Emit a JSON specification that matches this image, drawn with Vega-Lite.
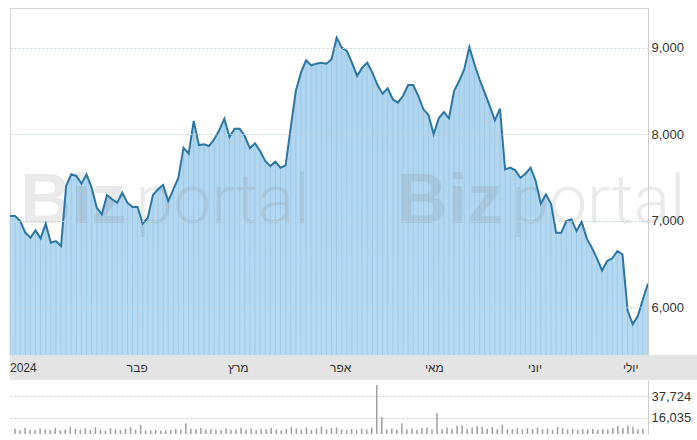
{
  "$schema": "https://vega.github.io/schema/vega-lite/v6.json",
  "padding": {"left": 5, "top": 7, "right": 0, "bottom": 7},
  "autosize": {"type": "pad"},
  "background": "white",
  "spacing": 0,
  "bounds": "flush",
  "config": {"view": {"stroke": null}, "font": "Liberation Sans"},
  "resolve": {"scale": {"x": "independent", "y": "independent"}},
  "datasets": {
    "prices": [
      {"i":0,"p":7053,"v":5200},{"i":1,"p":7053,"v":3800},{"i":2,"p":6995,"v":6100},{"i":3,"p":6860,"v":4200},{"i":4,"p":6802,"v":3900},
      {"i":5,"p":6887,"v":5600},{"i":6,"p":6794,"v":4800},{"i":7,"p":6964,"v":4100},{"i":8,"p":6744,"v":6300},{"i":9,"p":6763,"v":3700},
      {"i":10,"p":6706,"v":4400},{"i":11,"p":7400,"v":6900},{"i":12,"p":7535,"v":5100},{"i":13,"p":7516,"v":4300},{"i":14,"p":7427,"v":5800},
      {"i":15,"p":7535,"v":4000},{"i":16,"p":7380,"v":6600},{"i":17,"p":7149,"v":4500},{"i":18,"p":7072,"v":3600},{"i":19,"p":7296,"v":5900},
      {"i":20,"p":7246,"v":4700},{"i":21,"p":7207,"v":4100},{"i":22,"p":7322,"v":5300},{"i":23,"p":7207,"v":6700},{"i":24,"p":7157,"v":4200},
      {"i":25,"p":7157,"v":9200},{"i":26,"p":6964,"v":3500},{"i":27,"p":7033,"v":3800},{"i":28,"p":7296,"v":4100},{"i":29,"p":7362,"v":3600},
      {"i":30,"p":7411,"v":3900},{"i":31,"p":7226,"v":4300},{"i":32,"p":7362,"v":5000},{"i":33,"p":7496,"v":4600},{"i":34,"p":7843,"v":10500},
      {"i":35,"p":7774,"v":5200},{"i":36,"p":8152,"v":4800},{"i":37,"p":7874,"v":6100},{"i":38,"p":7882,"v":4400},{"i":39,"p":7863,"v":5000},
      {"i":40,"p":7940,"v":4600},{"i":41,"p":8044,"v":3900},{"i":42,"p":8179,"v":5700},{"i":43,"p":7967,"v":4200},{"i":44,"p":8063,"v":4500},
      {"i":45,"p":8063,"v":6200},{"i":46,"p":7978,"v":4300},{"i":47,"p":7836,"v":5500},{"i":48,"p":7894,"v":3900},{"i":49,"p":7805,"v":5100},
      {"i":50,"p":7689,"v":4700},{"i":51,"p":7631,"v":6000},{"i":52,"p":7681,"v":4400},{"i":53,"p":7612,"v":3800},{"i":54,"p":7639,"v":5200},
      {"i":55,"p":8074,"v":6800},{"i":56,"p":8499,"v":5600},{"i":57,"p":8711,"v":4500},{"i":58,"p":8854,"v":6400},{"i":59,"p":8796,"v":4100},
      {"i":60,"p":8815,"v":5300},{"i":61,"p":8826,"v":7600},{"i":62,"p":8815,"v":4800},{"i":63,"p":8866,"v":5900},{"i":64,"p":9116,"v":6500},
      {"i":65,"p":9000,"v":4600},{"i":66,"p":8962,"v":4200},{"i":67,"p":8826,"v":5000},{"i":68,"p":8673,"v":3900},{"i":69,"p":8769,"v":5400},
      {"i":70,"p":8826,"v":4700},{"i":71,"p":8711,"v":6600},{"i":72,"p":8568,"v":49000},{"i":73,"p":8468,"v":17000},{"i":74,"p":8530,"v":4800},
      {"i":75,"p":8403,"v":5600},{"i":76,"p":8364,"v":4400},{"i":77,"p":8441,"v":10500},{"i":78,"p":8568,"v":4600},{"i":79,"p":8568,"v":5200},
      {"i":80,"p":8441,"v":4300},{"i":81,"p":8287,"v":5900},{"i":82,"p":8221,"v":6200},{"i":83,"p":7998,"v":4500},{"i":84,"p":8183,"v":21000},
      {"i":85,"p":8256,"v":4800},{"i":86,"p":8183,"v":6500},{"i":87,"p":8499,"v":4900},{"i":88,"p":8615,"v":8200},{"i":89,"p":8750,"v":8700},
      {"i":90,"p":9008,"v":5300},{"i":91,"p":8808,"v":6400},{"i":92,"p":8634,"v":7900},{"i":93,"p":8479,"v":7200},{"i":94,"p":8325,"v":5200},
      {"i":95,"p":8160,"v":7000},{"i":96,"p":8294,"v":4800},{"i":97,"p":7593,"v":9300},{"i":98,"p":7612,"v":4600},{"i":99,"p":7581,"v":5000},
      {"i":100,"p":7496,"v":6100},{"i":101,"p":7542,"v":4500},{"i":102,"p":7612,"v":5600},{"i":103,"p":7458,"v":4900},{"i":104,"p":7195,"v":6200},
      {"i":105,"p":7304,"v":4700},{"i":106,"p":7195,"v":5500},{"i":107,"p":6860,"v":4400},{"i":108,"p":6860,"v":7000},{"i":109,"p":6995,"v":5800},
      {"i":110,"p":7015,"v":4600},{"i":111,"p":6879,"v":5100},{"i":112,"p":6987,"v":4300},{"i":113,"p":6794,"v":4800},{"i":114,"p":6686,"v":4500},
      {"i":115,"p":6563,"v":5300},{"i":116,"p":6424,"v":4200},{"i":117,"p":6532,"v":4900},{"i":118,"p":6563,"v":4600},{"i":119,"p":6648,"v":6100},
      {"i":120,"p":6610,"v":8000},{"i":121,"p":5962,"v":6000},{"i":122,"p":5800,"v":8600},{"i":123,"p":5896,"v":7200},{"i":124,"p":6089,"v":4700},
      {"i":125,"p":6270,"v":5200}
    ],
    "months": [
      {"i":0,"m":"2024"},{"i":22.9,"m":"פבר"},{"i":42.7,"m":"מרץ"},{"i":62.7,"m":"אפר"},
      {"i":81.3,"m":"מאי"},{"i":101.5,"m":"יוני"},{"i":120.1,"m":"יולי"}
    ]
  },
  "vconcat": [
    {
      "width": 638,
      "height": 347,
      "view": {"stroke": "#d6d6d6", "strokeWidth": 1},
      "data": {"name": "prices"},
      "layer": [
        {
          "mark": {"type": "area", "clip": true,
            "color": {"x1": 0, "y1": 0, "x2": 0, "y2": 1, "gradient": "linear",
              "stops": [{"offset": 0, "color": "#afd4ee"}, {"offset": 1, "color": "#c3e5fa"}]}},
          "encoding": {
            "x": {"field": "i", "type": "quantitative", "scale": {"domain": [0, 125], "nice": false, "zero": false}, "axis": null},
            "y": {"field": "p", "type": "quantitative",
              "scale": {"domain": [5445, 9459], "nice": false, "zero": false},
              "axis": {"orient": "right", "values": [6000, 7000, 8000, 9000], "format": ",.0f", "title": null,
                "ticks": false, "labelPadding": 3, "domainColor": "#cccccc", "gridColor": "#c2d2de", "gridDash": [2, 2],
                "labelFontSize": 13, "labelColor": "#333333", "labelFont": "Liberation Sans", "zindex": 1}}
          }
        },
        {
          "mark": {"type": "rule", "color": "#8fc2e2", "strokeWidth": 1, "opacity": 0.6},
          "encoding": {
            "x": {"field": "i", "type": "quantitative"},
            "y": {"field": "p", "type": "quantitative"},
            "y2": {"datum": 5445}
          }
        },
        {
          "data": {"values": [{}]},
          "mark": {"type": "text", "text": "Biz", "font": "Liberation Sans", "fontWeight": "bold", "fontSize": 71, "align": "left", "baseline": "alphabetic", "color": "#808080", "opacity": 0.16},
          "encoding": {"x": {"datum": 2.0}, "y": {"datum": 6972}}
        },
        {
          "data": {"values": [{}]},
          "mark": {"type": "text", "text": "portal", "font": "Roboto", "fontWeight": 300, "fontSize": 68, "align": "left", "baseline": "alphabetic", "color": "#808080", "opacity": 0.16},
          "encoding": {"x": {"datum": 24.6}, "y": {"datum": 6972}}
        },
        {
          "data": {"values": [{}]},
          "mark": {"type": "text", "text": "Biz", "font": "Liberation Sans", "fontWeight": "bold", "fontSize": 71, "align": "left", "baseline": "alphabetic", "color": "#808080", "opacity": 0.16},
          "encoding": {"x": {"datum": 75.7}, "y": {"datum": 6972}}
        },
        {
          "data": {"values": [{}]},
          "mark": {"type": "text", "text": "portal", "font": "Roboto", "fontWeight": 300, "fontSize": 68, "align": "left", "baseline": "alphabetic", "color": "#808080", "opacity": 0.16},
          "encoding": {"x": {"datum": 98.2}, "y": {"datum": 6972}}
        },
        {
          "mark": {"type": "line", "color": "#2d76a4", "strokeWidth": 2},
          "encoding": {
            "x": {"field": "i", "type": "quantitative"},
            "y": {"field": "p", "type": "quantitative"}
          }
        }
      ]
    },
    {
      "width": 692,
      "height": 25,
      "view": {"fill": "#e4e4e4", "stroke": null},
      "data": {"name": "months"},
      "mark": {"type": "text", "align": "left", "baseline": "middle", "fontSize": 12, "color": "#333333", "font": "Liberation Sans"},
      "encoding": {
        "x": {"field": "i", "type": "quantitative", "scale": {"domain": [0, 135.6], "nice": false, "zero": false}, "axis": null},
        "text": {"field": "m", "type": "nominal"}
      }
    },
    {
      "width": 638,
      "height": 54,
      "data": {"name": "prices"},
      "mark": {"type": "bar", "width": 1.5, "color": "#9e9e9e"},
      "encoding": {
        "x": {"field": "i", "type": "quantitative", "scale": {"domain": [0, 125], "nice": false, "zero": false}, "axis": null},
        "y": {"field": "v", "type": "quantitative", "scale": {"domain": [0, 54000], "nice": false},
          "axis": {"orient": "right", "values": [16035, 37724], "format": ",.0f", "title": null, "ticks": false,
            "labelPadding": 3, "domainColor": "#cccccc", "gridColor": "#cccccc", "gridDash": [2, 2],
            "labelFontSize": 13, "labelColor": "#333333", "labelFont": "Liberation Sans"}}
      }
    }
  ]
}
